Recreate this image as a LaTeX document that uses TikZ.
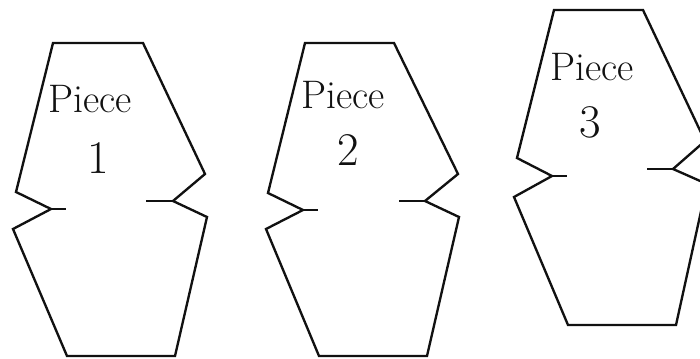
\documentclass[tikz,border=0pt]{standalone}
\usepackage{tikz}
\definecolor{InkDark}{HTML}{111111}

\begin{document}
\begin{tikzpicture}[x=0.03cm, y=-0.03cm,
    outline/.style={draw=InkDark, line width=2pt, line join=miter},
    stub/.style={draw=InkDark, line width=2pt},
    label/.style={font=\fontsize{34}{36}\selectfont, text=InkDark, inner sep=0pt},
    digit/.style={font=\fontsize{40}{42}\selectfont, text=InkDark, inner sep=0pt}]
  \useasboundingbox (0,0) rectangle (700,358);
  \clip (0,0) rectangle (700,358);
  % piece 1
  \draw[outline] (53,43) -- (143,43) -- (205,174) -- (173,201) -- (207,217) -- (175,356)
        -- (67,356) -- (13,229) -- (51,209) -- (16,192) -- cycle;
  \draw[stub] (51,209) -- (66,209);
  \draw[stub] (146,201) -- (173,201);
  \node[label] (p1name) at (90,99) {Piece};
  \node[digit] (p1num) at (98,158) {1};
  % piece 2
  \draw[outline] (305,43) -- (394,43) -- (458,174) -- (425,201) -- (459,217) -- (427,356)
        -- (319,356) -- (266,229) -- (303,210) -- (268,193) -- cycle;
  \draw[stub] (303,210) -- (318,210);
  \draw[stub] (399,201) -- (425,201);
  \node[label] (p2name) at (343,95) {Piece};
  \node[digit] (p2num) at (348,150) {2};
  % piece 3
  \draw[outline] (554,10) -- (643,10) -- (705,141) -- (673,169) -- (707,184) -- (676,325)
        -- (568,325) -- (514,197) -- (552,176) -- (517,158) -- cycle;
  \draw[stub] (552,176) -- (567,176);
  \draw[stub] (647,169) -- (673,169);
  \node[label] (p3name) at (592,67) {Piece};
  \node[digit] (p3num) at (590,122) {3};
\end{tikzpicture}
\end{document}
